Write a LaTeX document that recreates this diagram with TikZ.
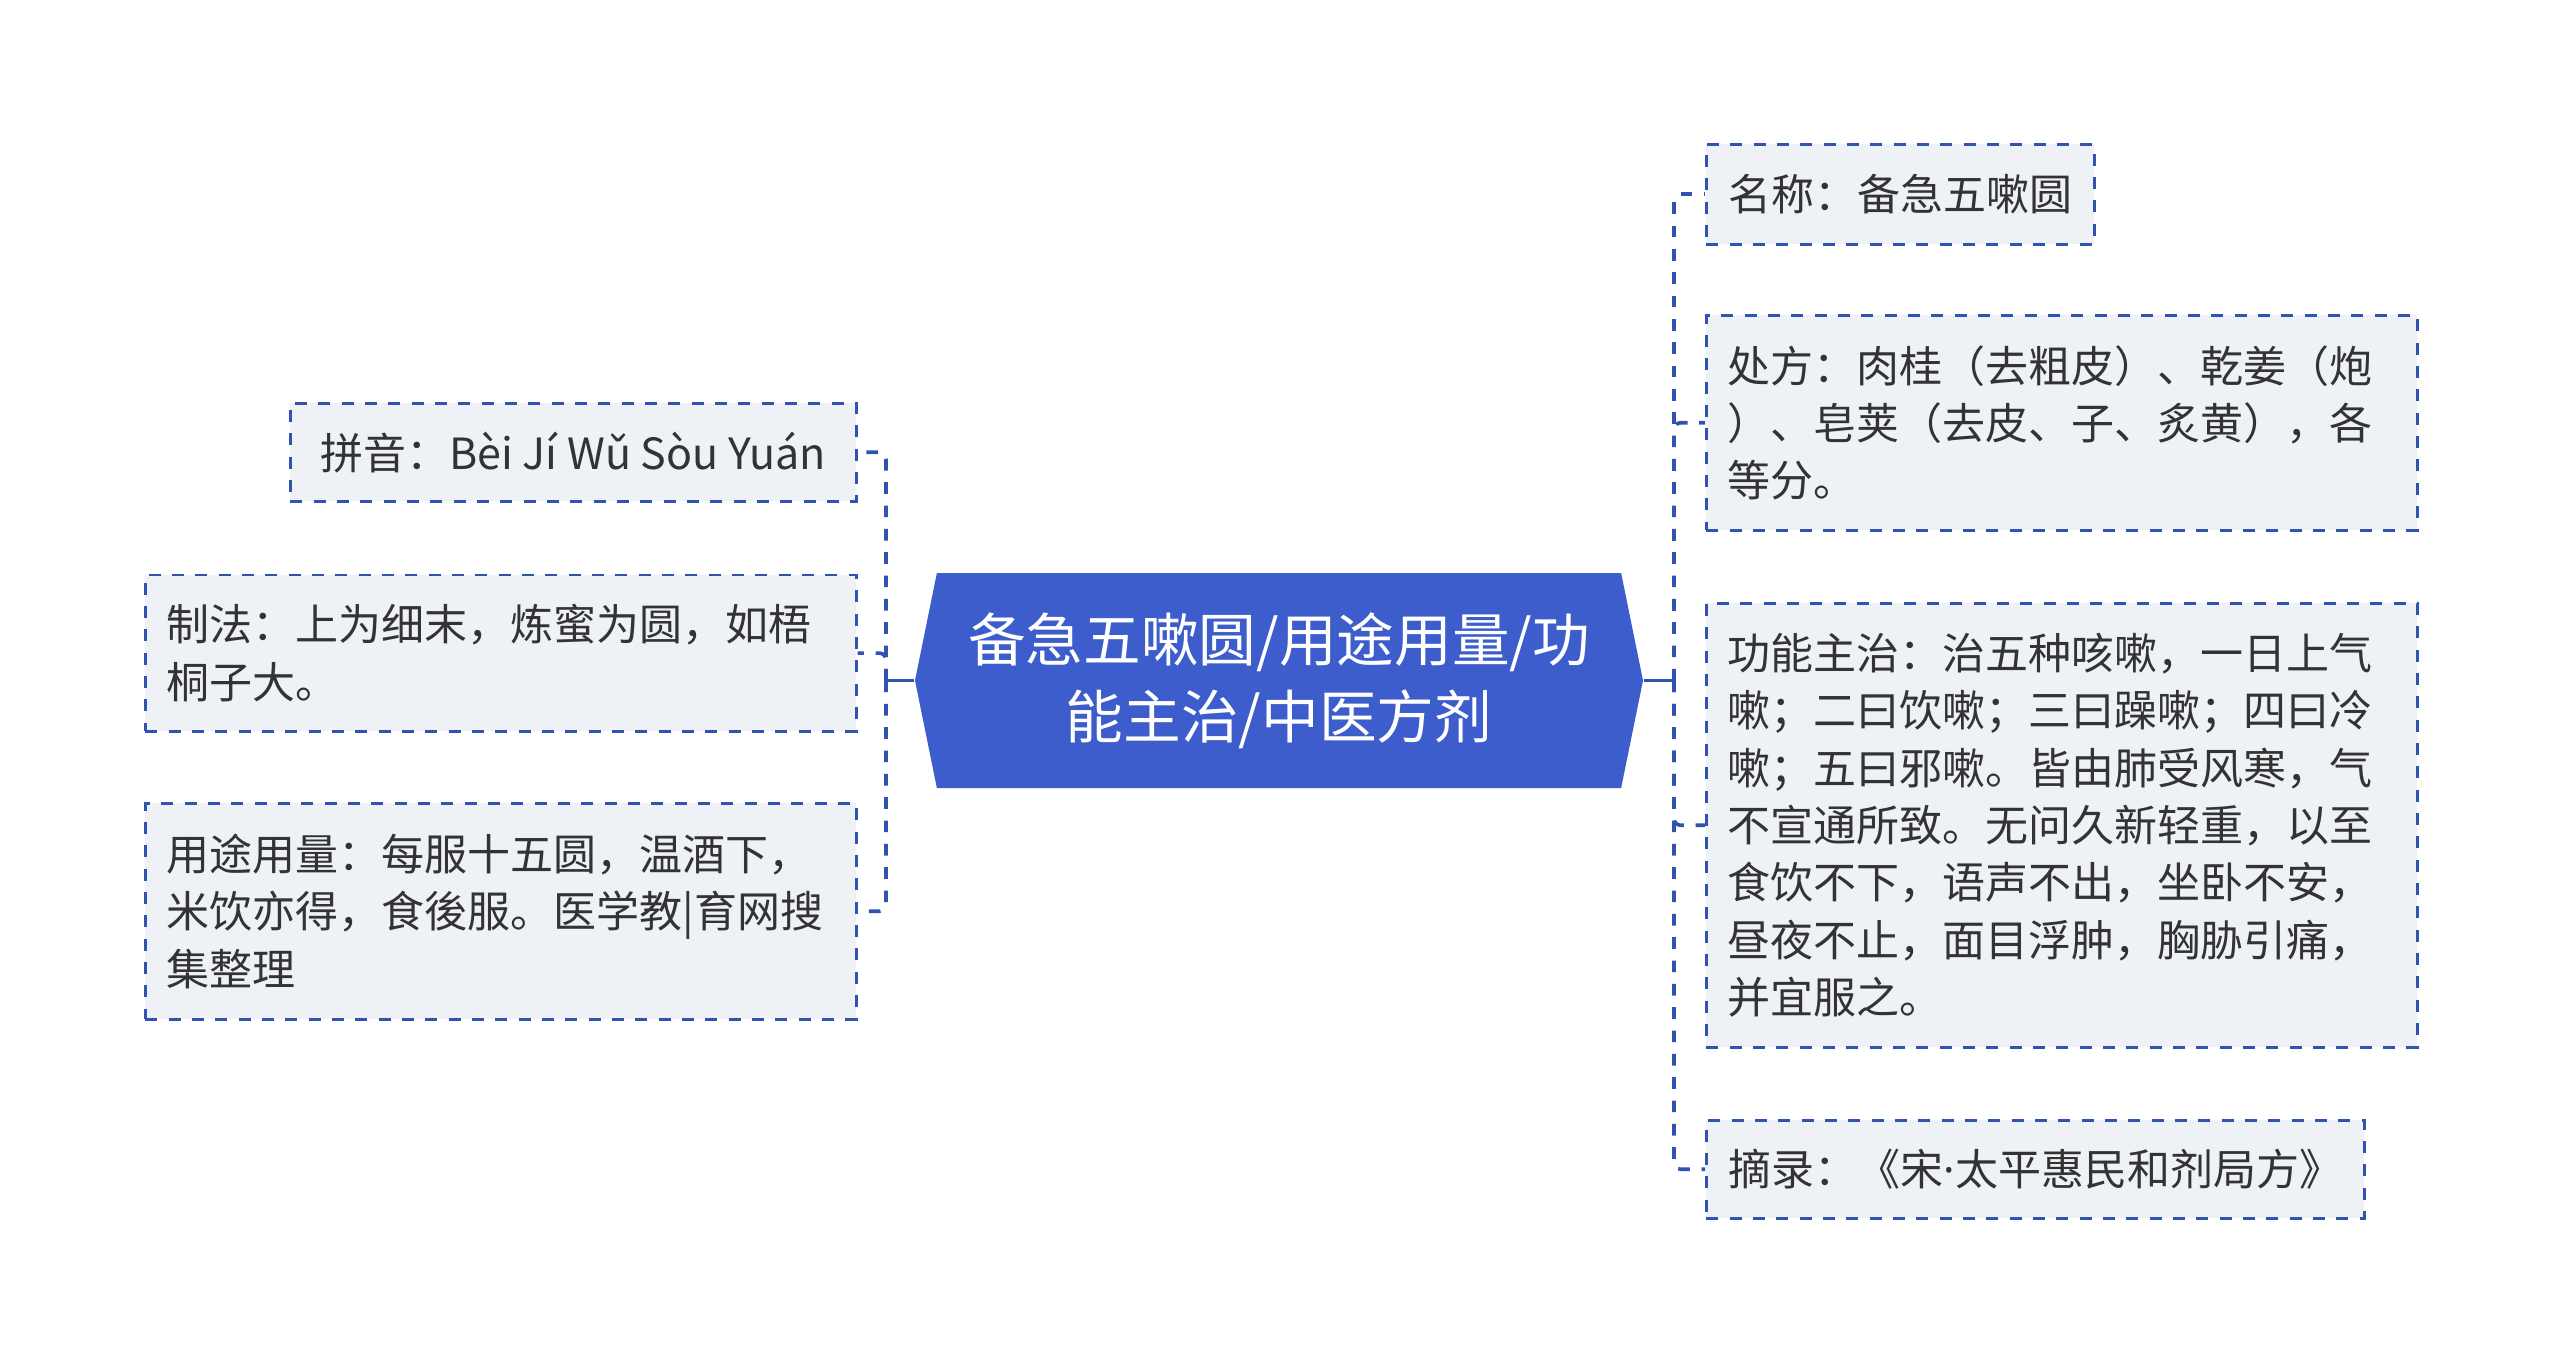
\documentclass[tikz,border=0pt]{standalone}
\usepackage{fontspec}
\setmainfont{Noto Sans CJK SC}
\newfontfamily\latinfont{Noto Sans}
\usetikzlibrary{positioning, calc, shapes}

\definecolor{rootfill}{RGB}{61,93,204}
\definecolor{linec}{RGB}{50,82,176}
\definecolor{leaffill}{RGB}{238,241,245}
\definecolor{textc}{RGB}{51,51,51}

\begin{document}
\begin{tikzpicture}[x=0.3pt, y=-0.3pt,
		root/.style = {signal, signal to=east and west, signal pointer angle=157, fill=rootfill,
			text=white, align=center, minimum width=218.4pt, minimum height=64.5pt,
			font=\fontsize{17.3}{23.1}\selectfont},
		leaf/.style = {draw=linec, fill=leaffill, line width=0.75pt, dash pattern=on 3.6pt off 3.4pt,
			inner xsep=6.5pt, inner ysep=0pt, anchor=north west, align=left, text=textc,
			font=\fontsize{12.9}{17.2}\selectfont},
		link/.style = {draw=linec, line width=1.1pt, dash pattern=on 3.5pt off 3.5pt, rounded corners=2pt},
		stem/.style = {draw=linec, line width=0.85pt}]
	\useasboundingbox (0,0) rectangle (2560,1361);

	\node[root] (root) at (1279,680.5) {备急五嗽圆/用途用量/功\\能主治/中医方剂};

	% left side
	\node[leaf, minimum width=169.8pt, minimum height=29.4pt] (pinyin) at (289,402) {拼音：Bèi Jí Wǔ Sòu Yuán};
	\node[leaf, text width=200.3pt, minimum height=47pt] (zhifa) at (144,573.5) {制法：上为细末，炼蜜为圆，如梧\\桐子大。};
	\node[leaf, text width=200.3pt, minimum height=64.8pt] (yongtu) at (144,802) {用途用量：每服十五圆，温酒下，\\米饮亦得，食後服。医学教|育网搜\\集整理};

	% right side
	\node[leaf, minimum width=116.4pt, minimum height=30pt] (mingcheng) at (1705,143) {名称：备急五嗽圆};
	\node[leaf, text width=200.3pt, minimum height=64.5pt] (chufang) at (1705,314) {处方：肉桂（去粗皮）、乾姜（炮\\）、皂荚（去皮、子、炙黄），各\\等分。};
	\node[leaf, text width=200.3pt, minimum height=133.2pt] (gongneng) at (1705,602) {功能主治：治五种咳嗽，一日上气\\嗽；二曰饮嗽；三曰躁嗽；四曰冷\\嗽；五曰邪嗽。皆由肺受风寒，气\\不宣通所致。无问久新轻重，以至\\食饮不下，语声不出，坐卧不安，\\昼夜不止，面目浮肿，胸胁引痛，\\并宜服之。};
	\node[leaf, minimum width=197.4pt, minimum height=29.4pt] (zhailu) at (1705,1119) {摘录：《宋{\latinfont ·}太平惠民和剂局方》};

	\coordinate (lt) at (886,680.5);
	\coordinate (rt) at (1674,680.5);

	\draw[stem] (root.west) -- (lt);
	\draw[stem] (root.east) -- (rt);
	\foreach \n in {pinyin, zhifa, yongtu}
		\draw[link] (lt) |- (\n.east);
	\foreach \n in {mingcheng, chufang, gongneng, zhailu}
		\draw[link] (rt) |- (\n.west);
\end{tikzpicture}
\end{document}
